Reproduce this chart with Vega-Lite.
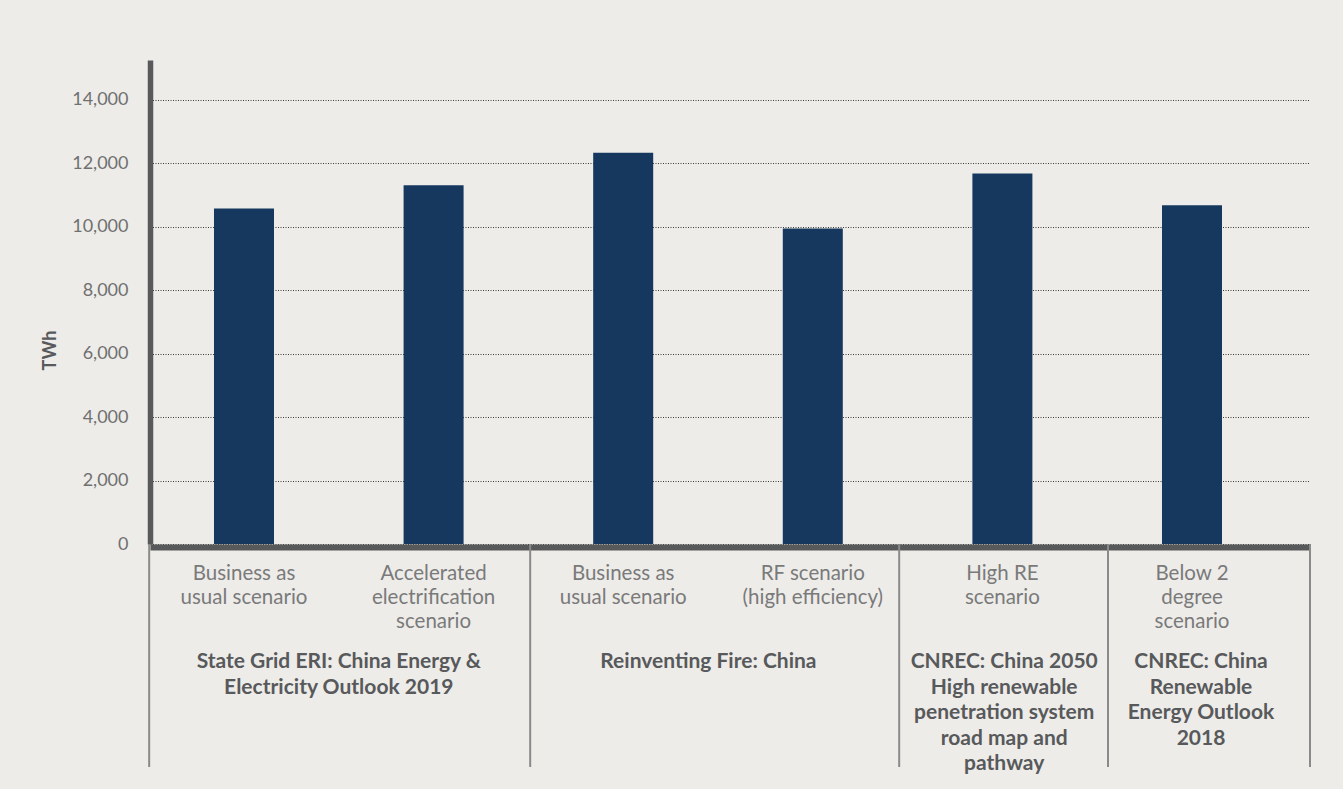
{
  "$schema": "https://vega.github.io/schema/vega-lite/v6.json",
  "width": 1160,
  "height": 484,
  "autosize": {"type": "none"},
  "padding": {"left": 150, "top": 60, "right": 33, "bottom": 245},
  "background": "#EDECE9",
  "config": {
    "view": {"stroke": null},
    "font": "Lato",
    "axis": {"labelFont": "Lato", "titleFont": "Lato"},
    "rule": {"color": "#8A8A8A", "strokeWidth": 2},
    "text": {"lineBreak": "|", "baseline": "alphabetic", "align": "center"}
  },
  "datasets": {
    "bars": [
      {"key": "SG BAU", "scenario": "Business as|usual scenario", "value": 10570},
      {"key": "SG ACC", "scenario": "Accelerated|electrification|scenario", "value": 11300},
      {"key": "RF BAU", "scenario": "Business as|usual scenario", "value": 12330},
      {"key": "RF HE", "scenario": "RF scenario|(high efficiency)", "value": 9940},
      {"key": "CNREC HRE", "scenario": "High RE|scenario", "value": 11670},
      {"key": "CNREC B2", "scenario": "Below 2|degree|scenario", "value": 10670}
    ],
    "groups": [
      {"first": "SG BAU", "source": "State Grid ERI: China Energy &|Electricity Outlook 2019"},
      {"first": "RF BAU", "source": "Reinventing Fire: China"},
      {"first": "CNREC HRE", "source": "CNREC: China 2050|High renewable|penetration system|road map and|pathway"},
      {"first": "CNREC B2", "source": "CNREC: China|Renewable|Energy Outlook|2018"}
    ]
  },
  "layer": [
    {
      "data": {"name": "bars"},
      "mark": {"type": "bar", "color": "#16385F"},
      "encoding": {
        "x": {
          "field": "key",
          "type": "nominal",
          "scale": {
            "domain": ["SG BAU", "SG ACC", "RF BAU", "RF HE", "CNREC HRE", "CNREC B2"],
            "paddingInner": 0.6835,
            "paddingOuter": 0.4008,
            "align": 0.421
          },
          "axis": {
            "title": null,
            "labels": false,
            "ticks": false,
            "domainColor": "#58595B",
            "domainWidth": 6,
            "offset": 3
          }
        },
        "y": {
          "field": "value",
          "type": "quantitative",
          "scale": {"domain": [0, 15250], "nice": false},
          "axis": {
            "title": "TWh",
            "titleFontWeight": "bold",
            "titleFontSize": 18,
            "titleColor": "#58595B",
            "titleAngle": 270,
            "titleBaseline": "alphabetic",
            "titleAlign": "center",
            "titleX": -95,
            "titleY": 290,
            "values": [0, 2000, 4000, 6000, 8000, 10000, 12000, 14000],
            "format": ",.0f",
            "labelFontSize": 18,
            "labelColor": "#707070",
            "labelPadding": 22,
            "ticks": false,
            "domainColor": "#58595B",
            "domainWidth": 5.5,
            "grid": true,
            "gridColor": "#3A3A3A",
            "gridDash": [1, 1.5],
            "gridWidth": 1
          }
        }
      }
    },
    {
      "data": {"name": "bars"},
      "mark": {"type": "text", "dy": 36, "lineHeight": 24, "fontSize": 20.5, "color": "#7A7A7A"},
      "encoding": {
        "x": {"field": "key", "type": "nominal", "bandPosition": 0.5},
        "y": {"value": "height"},
        "text": {"field": "scenario"}
      }
    },
    {
      "data": {"name": "groups"},
      "transform": [{"filter": "datum.first == 'SG BAU'"}],
      "layer": [
        {
          "mark": {"type": "text", "dy": 124, "lineHeight": 25.5, "fontSize": 21, "fontWeight": "bold", "color": "#58595B"},
          "encoding": {
            "x": {"field": "first", "type": "nominal", "bandPosition": 2.08},
            "y": {"value": "height"},
            "text": {"field": "source"}
          }
        },
        {
          "mark": {"type": "rule"},
          "encoding": {
            "x": {"field": "first", "type": "nominal", "bandPosition": -1.08},
            "y": {"value": "height"},
            "y2": {"value": {"expr": "height + 223"}}
          }
        }
      ]
    },
    {
      "data": {"name": "groups"},
      "transform": [{"filter": "datum.first == 'RF BAU'"}],
      "layer": [
        {
          "mark": {"type": "text", "dy": 124, "lineHeight": 25.5, "fontSize": 21, "fontWeight": "bold", "color": "#58595B"},
          "encoding": {
            "x": {"field": "first", "type": "nominal", "bandPosition": 1.92},
            "y": {"value": "height"},
            "text": {"field": "source"}
          }
        },
        {
          "mark": {"type": "rule"},
          "encoding": {
            "x": {"field": "first", "type": "nominal", "bandPosition": -1.05},
            "y": {"value": "height"},
            "y2": {"value": {"expr": "height + 223"}}
          }
        }
      ]
    },
    {
      "data": {"name": "groups"},
      "transform": [{"filter": "datum.first == 'CNREC HRE'"}],
      "layer": [
        {
          "mark": {"type": "text", "dy": 124, "lineHeight": 25.5, "fontSize": 21, "fontWeight": "bold", "color": "#58595B"},
          "encoding": {
            "x": {"field": "first", "type": "nominal", "bandPosition": 0.53},
            "y": {"value": "height"},
            "text": {"field": "source"}
          }
        },
        {
          "mark": {"type": "rule"},
          "encoding": {
            "x": {"field": "first", "type": "nominal", "bandPosition": -1.22},
            "y": {"value": "height"},
            "y2": {"value": {"expr": "height + 223"}}
          }
        }
      ]
    },
    {
      "data": {"name": "groups"},
      "transform": [{"filter": "datum.first == 'CNREC B2'"}],
      "layer": [
        {
          "mark": {"type": "text", "dy": 124, "lineHeight": 25.5, "fontSize": 21, "fontWeight": "bold", "color": "#58595B"},
          "encoding": {
            "x": {"field": "first", "type": "nominal", "bandPosition": 0.65},
            "y": {"value": "height"},
            "text": {"field": "source"}
          }
        },
        {
          "mark": {"type": "rule"},
          "encoding": {
            "x": {"field": "first", "type": "nominal", "bandPosition": -0.9},
            "y": {"value": "height"},
            "y2": {"value": {"expr": "height + 223"}}
          }
        }
      ]
    },
    {
      "data": {"values": [{"edge": "end"}]},
      "mark": {"type": "rule"},
      "encoding": {
        "x": {"value": "width"},
        "y": {"value": "height"},
        "y2": {"value": {"expr": "height + 223"}}
      }
    }
  ]
}
